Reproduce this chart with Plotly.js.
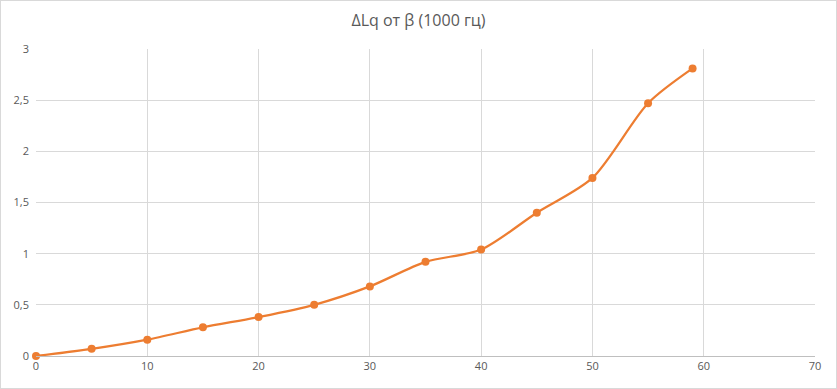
<!DOCTYPE html>
<html>
<head>
<meta charset="utf-8">
<script src="https://cdn.plot.ly/plotly-3.0.1.min.js"></script>
<style>
html,body{margin:0;padding:0;background:#fff;}
#chart{width:837px;height:389px;box-sizing:border-box;border:1px solid #d9d9d9;}
</style>
</head>
<body>
<div id="chart"></div>
<script>
const beta = [0, 5, 10, 15, 20, 25, 30, 35, 40, 45, 50, 55, 59];
const deltaLq = [0, 0.07, 0.16, 0.28, 0.38, 0.5, 0.68, 0.92, 1.04, 1.40, 1.74, 2.47, 2.81];
const chartTitle = 'ΔLq от β (1000 гц)';

const trace = {
  x: beta,
  y: deltaLq,
  type: 'scatter',
  mode: 'lines+markers',
  line: {color: '#ED7D31', width: 2.25, shape: 'spline', smoothing: 0.8},
  marker: {color: '#ED7D31', size: 8},
  cliponaxis: false,
  hoverinfo: 'x+y'
};

const layout = {
  width: 835,
  height: 387,
  margin: {l: 35, r: 21, t: 48, b: 32},
  paper_bgcolor: '#fff',
  plot_bgcolor: '#fff',
  separators: ', ',
  font: {family: 'Open Sans, Liberation Sans, sans-serif', color: '#595959', size: 11},
  title: {text: chartTitle, x: 0.5, xanchor: 'center', y: 0.95, yanchor: 'middle',
          font: {size: 16, color: '#595959', family: 'Open Sans, sans-serif'}},
  showlegend: false,
  xaxis: {
    range: [0, 70], dtick: 10, tick0: 0,
    showgrid: true, gridcolor: '#d9d9d9', gridwidth: 1,
    zeroline: false, showline: true, linecolor: '#bfbfbf', linewidth: 1,
    ticks: '', tickfont: {size: 11, color: '#595959'}, fixedrange: true
  },
  yaxis: {
    range: [0, 3], dtick: 0.5, tick0: 0,
    showgrid: true, gridcolor: '#d9d9d9', gridwidth: 1,
    zeroline: false, showline: false,
    ticks: '', ticklabelstandoff: 6, tickfont: {size: 11, color: '#595959'}, fixedrange: true
  }
};

Plotly.newPlot('chart', [trace], layout, {displayModeBar: false, staticPlot: true});
</script>
</body>
</html>
